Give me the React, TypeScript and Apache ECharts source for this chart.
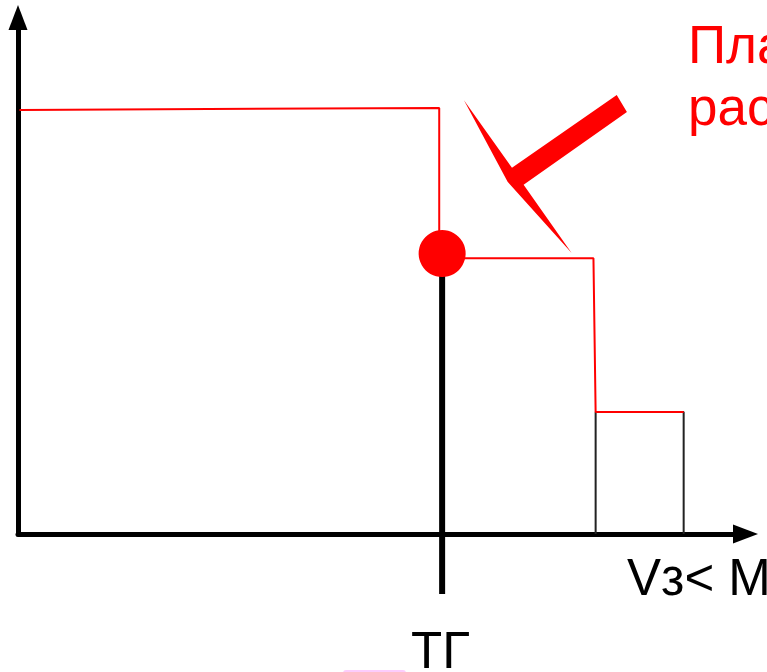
import React, { useEffect, useRef } from "react";
import * as echarts from "echarts";

// Axis units: both axes run 0..100
const xRange = [0, 100];
const yRange = [0, 100];

// Red step line (upper level up to the point, then lower steps)
const redUpper = [[0.2, 82.1], [57.9, 82.5], [57.9, 54.3]];
const redLower = [[58.3, 53.4], [79.1, 53.4], [79.4, 23.6], [91.5, 23.6]];
// Red dot
const dotPoint = [[58.3, 54.3]];
// Thick black vertical (ТГ)
const tgLine = [[58.3, 51.1], [58.3, -11.6]];
// Small black rectangle
const boxLine = [[79.4, 0], [79.4, 23.6], [91.5, 23.6], [91.5, 0]];
// Lightning-shaped red pointer
const boltPoints = [
  [61.3, 84.0], [67.9, 70.9], [82.3, 85.0], [83.7, 81.7],
  [69.5, 67.6], [76.1, 54.4], [67.3, 68.2],
];

// Texts
const topLines = ["Пла", "рас"];
const xLabel = "Vз< M";
const tgLabel = "ТГ";

const FONT = "'Liberation Sans', Arial, sans-serif";

export default function App() {
  const ref = useRef<HTMLDivElement>(null);
  useEffect(() => {
    document.body.style.margin = "0";
    const chart = echarts.init(ref.current!, null, { renderer: "svg" });
    const axisCommon = {
      type: "value" as const,
      axisLine: {
        show: true,
        onZero: false,
        symbol: ["none", "triangle"],
        symbolSize: [19, 25],
        lineStyle: { color: "#000", width: 5 },
      },
      axisTick: { show: false },
      axisLabel: { show: false },
      splitLine: { show: false },
    };
    chart.setOption({
      animation: false,
      grid: { left: 18, right: 21.5, top: 17.5, bottom: 138 },
      xAxis: { ...axisCommon, min: xRange[0], max: xRange[1] },
      yAxis: { ...axisCommon, min: yRange[0], max: yRange[1] },
      series: [
        {
          type: "line",
          data: boxLine,
          symbol: "none",
          lineStyle: { color: "#222", width: 2 },
          z: 2,
        },
        {
          type: "line",
          data: tgLine,
          symbol: "none",
          clip: false,
          lineStyle: { color: "#000", width: 6 },
          z: 3,
        },
        {
          type: "line",
          data: redUpper,
          symbol: "none",
          lineStyle: { color: "#ff0000", width: 2 },
          z: 4,
        },
        {
          type: "line",
          data: redLower,
          symbol: "none",
          lineStyle: { color: "#ff0000", width: 2 },
          z: 4,
        },
        {
          type: "scatter",
          data: dotPoint,
          symbol: "circle",
          symbolSize: 47,
          itemStyle: { color: "#ff0000", opacity: 1 },
          z: 6,
        },
        {
          type: "custom",
          data: [[0, 0]],
          clip: false,
          z: 5,
          renderItem: (_params: any, api: any) => ({
            type: "polygon",
            shape: { points: boltPoints.map((p) => api.coord(p)) },
            style: { fill: "#ff0000" },
          }),
        },
      ],
      graphic: [
        {
          type: "text",
          x: 688,
          y: 44.6,
          style: { text: topLines[0], fill: "#ff0000", fontSize: 53, fontFamily: FONT, verticalAlign: "middle", align: "left" },
        },
        {
          type: "text",
          x: 688,
          y: 106.6,
          style: { text: topLines[1], fill: "#ff0000", fontSize: 53, fontFamily: FONT, verticalAlign: "middle", align: "left" },
        },
        {
          type: "text",
          x: 627,
          y: 577.2,
          style: { text: xLabel, fill: "#000", fontSize: 51, fontFamily: FONT, verticalAlign: "middle", align: "left" },
        },
        {
          type: "text",
          x: 411,
          y: 650.9,
          style: { text: tgLabel, fill: "#000", fontSize: 51, fontFamily: FONT, verticalAlign: "middle", align: "left" },
        },
        {
          type: "rect",
          shape: { x: 343, y: 670, width: 63, height: 6, r: 3 },
          style: { fill: "#fcccfc" },
        },
      ],
    });
    return () => chart.dispose();
  }, []);
  return (
    <div
      ref={ref}
      style={{ position: "fixed", left: 0, top: 0, width: 767, height: 672 }}
    />
  );
}
